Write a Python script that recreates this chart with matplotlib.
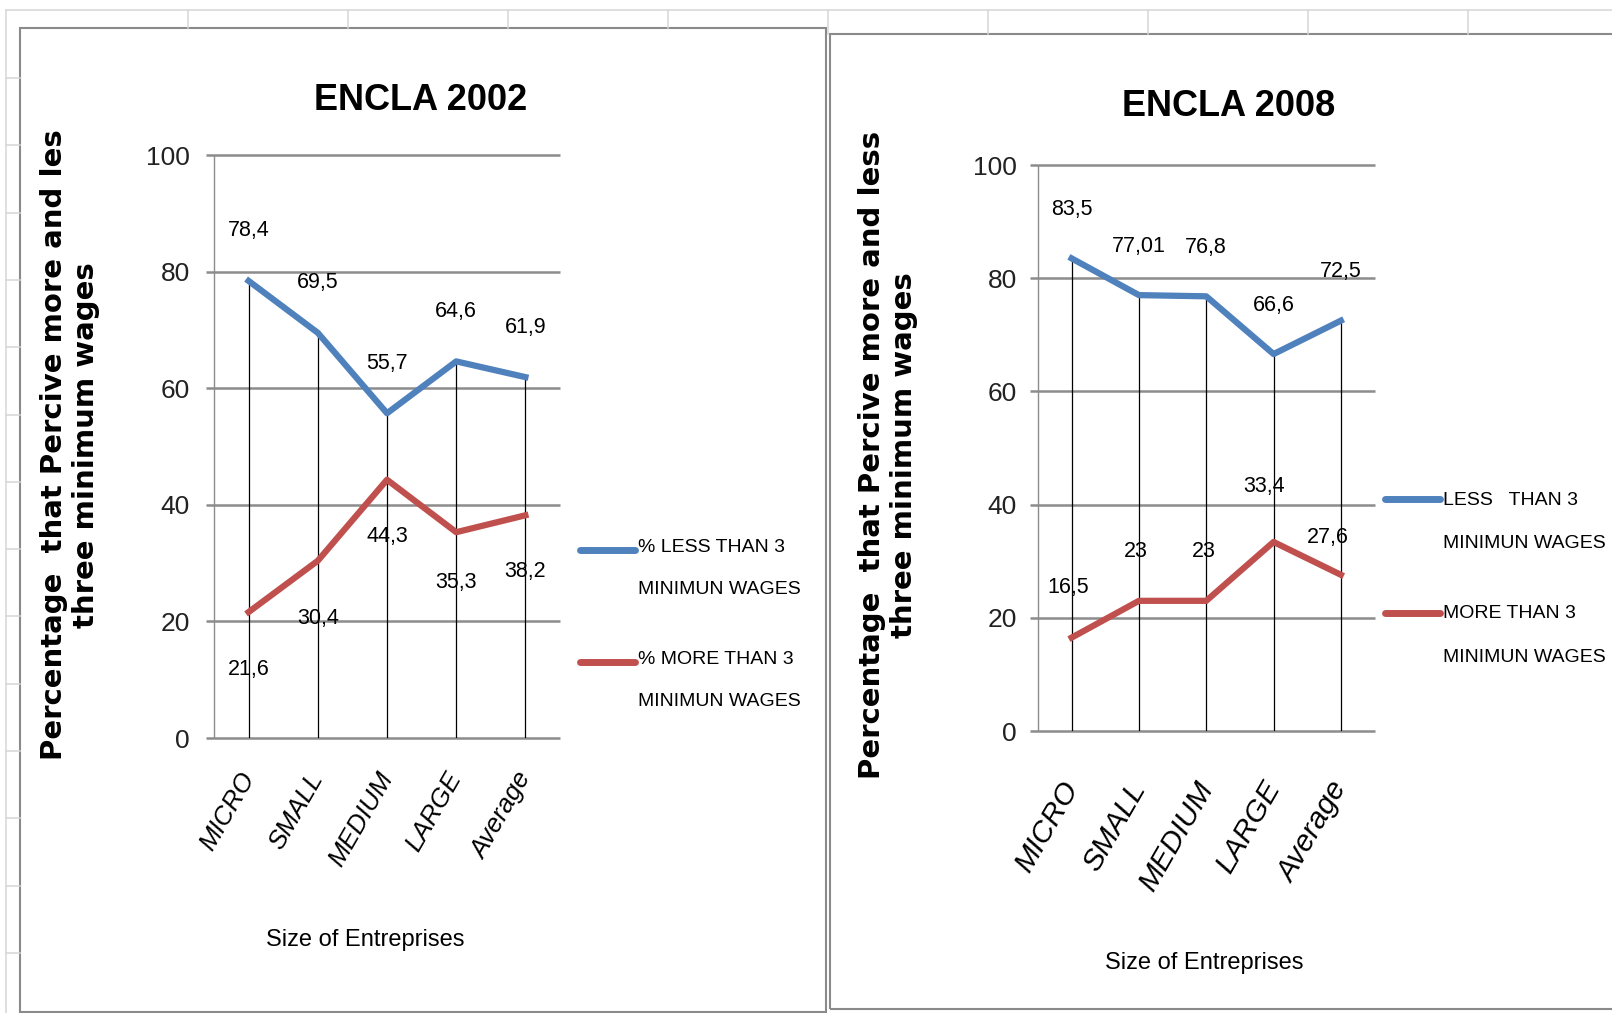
import matplotlib
matplotlib.use('Agg')
import numpy as np
from matplotlib import pyplot as plt
from matplotlib.lines import Line2D
from matplotlib.patches import Rectangle

plt.rcParams['font.family'] = ['Liberation Sans', 'DejaVu Sans']

# encuesta ENCLA: % de trabajadores segun tramo de salario
sizes = ['MICRO', 'SMALL', 'MEDIUM', 'LARGE', 'Average']
less_2002 = [78.4, 69.5, 55.7, 64.6, 61.9]
more_2002 = [21.6, 30.4, 44.3, 35.3, 38.2]
less_2008 = [83.5, 77.01, 76.8, 66.6, 72.5]
more_2008 = [16.5, 23, 23, 33.4, 27.6]
yticks = [0, 20, 40, 60, 80, 100]

BLUE = '#4F81BD'
RED = '#C0504D'
GRID = '#8c8c8c'
SHEET = '#d6d6d6'

W, H = 1612, 1013
fig = plt.figure(figsize=(W / 100, H / 100), dpi=100)


def fx(x):
    return x / W


def fy(y):
    return 1 - y / H


def fmt(v):
    return f'{v:g}'.replace('.', ',')


def sheet_line(x0, y0, x1, y1, color=SHEET, lw=1.1):
    fig.add_artist(Line2D([fx(x0), fx(x1)], [fy(y0), fy(y1)],
                          transform=fig.transFigure, color=color, lw=lw))


# hoja de calculo de fondo
sheet_line(6, 10, W, 10)
sheet_line(6, 10, 6, H)
for k in range(9):
    x = 188 + 160 * k
    sheet_line(x, 10, x, 28 if x < 826 else 34)
for k in range(14):
    y = 78 + 67.3 * k
    sheet_line(6, y, 20, y)

# marcos de cada grafico
fig.add_artist(Rectangle((fx(20), fy(1012)), (826 - 20) / W, (1012 - 28) / H,
                         transform=fig.transFigure, fill=False,
                         ec='#8a8a8a', lw=1.5))
fig.add_artist(Rectangle((fx(830), fy(1009)), (1660 - 830) / W, (1009 - 34) / H,
                         transform=fig.transFigure, fill=False,
                         ec='#8a8a8a', lw=1.5))


def draw_panel(ax, less, more, tick_size, tick_pad, ytick_pad,
               more_dx, more_dy, less_dy):
    x = np.arange(len(sizes)) + 0.5
    ax.set_xlim(0, len(sizes))
    ax.set_ylim(0, 100)
    for s in ['top', 'right', 'bottom']:
        ax.spines[s].set_visible(False)
    ax.spines['left'].set_color(GRID)
    ax.spines['left'].set_linewidth(1)

    ax.hlines(yticks, 0, len(sizes), color=GRID, lw=1.8, clip_on=False, zorder=1)
    ax.vlines(x, 0, np.maximum(less, more), color='black', lw=0.9, zorder=2)
    ax.plot(x, less, color=BLUE, lw=4.5, solid_joinstyle='round', zorder=3)
    ax.plot(x, more, color=RED, lw=4.5, solid_joinstyle='round', zorder=3)

    for i, v in enumerate(less):
        ax.annotate(fmt(v), (x[i], v), xytext=(0, less_dy), textcoords='offset pixels',
                    ha='center', va='center', fontsize=15.5, zorder=4)
    for i, v in enumerate(more):
        ax.annotate(fmt(v), (x[i], v), xytext=(more_dx[i], more_dy[i]),
                    textcoords='offset pixels',
                    ha='center', va='center', fontsize=15.5, zorder=4)

    ax.set_yticks(yticks)
    ax.tick_params(axis='y', length=8 / 1.389, width=1.8, color=GRID,
                   pad=ytick_pad, labelsize=19, labelcolor='#222222')
    ax.set_xticks(x)
    ax.set_xticklabels(sizes, rotation=60, ha='right', va='center',
                       rotation_mode='anchor', fontstyle='italic', fontsize=tick_size)
    ax.tick_params(axis='x', length=0, pad=tick_pad)


def legend(x0, y0, y1, labels, first_dy):
    for y, color, lab in [(y0, BLUE, labels[0]), (y1, RED, labels[1])]:
        fig.add_artist(Line2D([fx(x0), fx(x0 + 55)], [fy(y), fy(y)],
                              transform=fig.transFigure, color=color, lw=5,
                              solid_capstyle='round'))
        for j, line in enumerate(lab.split('\n')):
            fig.text(fx(x0 + 58), fy(y + first_dy + 43 * j), line, ha='left',
                     va='center', fontsize=14)


# ENCLA 2002
ax1 = fig.add_axes([fx(214), fy(738), 346 / W, (738 - 155) / H])
draw_panel(ax1, less_2002, more_2002, tick_size=18.5, tick_pad=26, ytick_pad=11.5,
           more_dx=[0, 0, 0, 0, 0], more_dy=[-57, -58, -57, -50, -56], less_dy=50)
fig.text(fx(421), fy(101), 'ENCLA 2002', ha='center', va='center',
         fontsize=26, fontweight='bold')
fig.text(fx(365), fy(940), 'Size of Entreprises', ha='center', va='center', fontsize=17)
fig.text(fx(70), fy(445), 'Percentage  that Percive more and les\nthree minimum wages',
         rotation=90, ha='center', va='center', multialignment='center',
         fontsize=21, fontweight='bold', family=['DejaVu Sans'], linespacing=1.2)
legend(580, 550, 662, ['% LESS THAN 3\nMINIMUN WAGES', '% MORE THAN 3\nMINIMUN WAGES'],
       first_dy=-3)

# ENCLA 2008
ax2 = fig.add_axes([fx(1038), fy(731), 336.5 / W, (731 - 165) / H])
draw_panel(ax2, less_2008, more_2008, tick_size=21.5, tick_pad=38, ytick_pad=9.4,
           more_dx=[-3, -3, -2, -10, -13], more_dy=[50, 49, 49, 55, 37], less_dy=49)
fig.text(fx(1229), fy(107), 'ENCLA 2008', ha='center', va='center',
         fontsize=26, fontweight='bold')
fig.text(fx(1204), fy(963), 'Size of Entreprises', ha='center', va='center', fontsize=17)
fig.text(fx(888), fy(455), 'Percentage  that Percive more and less\nthree minimum wages',
         rotation=90, ha='center', va='center', multialignment='center',
         fontsize=21, fontweight='bold', family=['DejaVu Sans'], linespacing=1.2)
legend(1385, 499, 613, ['LESS   THAN 3\nMINIMUN WAGES', 'MORE THAN 3\nMINIMUN WAGES'],
       first_dy=1)

fig.savefig('out.png', dpi=100)
